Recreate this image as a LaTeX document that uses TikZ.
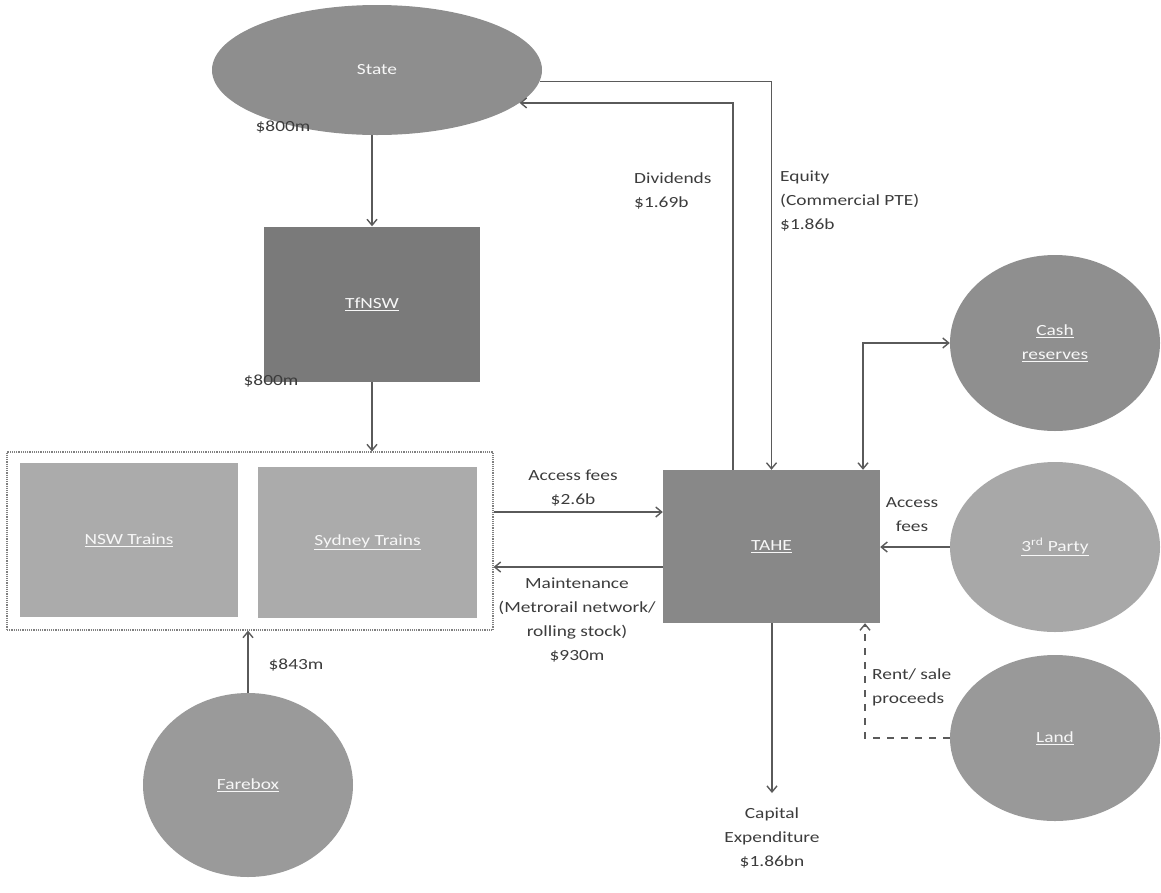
\documentclass[tikz,border=0pt]{standalone}
\usepackage{fontspec}
\setmainfont[FakeStretch=1.25]{Carlito}
\usetikzlibrary{shapes.geometric,arrows.meta}
\definecolor{cstate}{HTML}{8E8E8E}
\definecolor{ctfnsw}{HTML}{7A7A7A}
\definecolor{ctrain}{HTML}{ABABAB}
\definecolor{ctahe}{HTML}{888888}
\definecolor{ccash}{HTML}{8F8F8F}
\definecolor{cparty}{HTML}{A8A8A8}
\definecolor{cland}{HTML}{999999}
\definecolor{cfare}{HTML}{9A9A9A}
\definecolor{cline}{HTML}{5A5A5A}
\definecolor{ctext}{HTML}{3C3C3C}
\begin{document}
\begin{tikzpicture}[x=1pt,y=-1pt,
  font=\fontsize{15.5}{24}\selectfont,
  shapetext/.style={text=white!94!gray, inner sep=0pt},
  ell/.style={ellipse, shapetext},
  box/.style={rectangle, shapetext},
  lab/.style={text=ctext, align=center, inner sep=1pt},
  labl/.style={text=ctext, align=left, inner sep=1pt, anchor=north west},
  arr/.style={draw=cline, line width=1.4pt, -{Straight Barb[length=6pt,width=10pt]}},
  darr/.style={draw=cline, line width=1.4pt, {Straight Barb[length=6pt,width=10pt]}-{Straight Barb[length=6pt,width=10pt]}},
  plain/.style={draw=cline, line width=1.4pt},
  grp/.style={draw=gray, densely dotted, line width=1.2pt, rectangle, inner sep=0pt}
]
\useasboundingbox (0,0) rectangle (1161,892);

% shapes
\node[ell, fill=cstate, minimum width=330, minimum height=130] (state) at (377,70) {State};
\node[box, fill=ctfnsw, minimum width=216, minimum height=155] (tfnsw) at (372,304) {\underline{TfNSW}};
\node[grp, minimum width=486, minimum height=178] (group) at (250,541) {};
\node[box, fill=ctrain, minimum width=218, minimum height=154] (nsw) at (129,540) {\underline{NSW Trains}};
\node[box, fill=ctrain, minimum width=219, minimum height=151] (syd) at (367.5,542.5) {\underline{Sydney Trains}};
\node[ell, fill=cfare, minimum width=210, minimum height=184] (fare) at (248,785) {\underline{Farebox}};
\node[box, fill=ctahe, minimum width=217, minimum height=153] (tahe) at (771.5,546.5) {\underline{TAHE}};
\node[ell, fill=ccash, minimum width=210, minimum height=176, align=center] (cash) at (1055,343) {\underline{Cash}\\\underline{reserves}};
\node[ell, fill=cparty, minimum width=210, minimum height=170] (party) at (1055,547) {\underline{3\textsuperscript{rd} Party}};
\node[ell, fill=cland, minimum width=210, minimum height=166] (land) at (1055,738) {\underline{Land}};

% helper coordinates
\coordinate (dv) at (733,0);
\coordinate (cx) at (863,0);
\coordinate (rx) at (865,0);
\coordinate (af) at (0,512);
\coordinate (mt) at (0,567);
\coordinate (capend) at (772,793);

% connectors
\draw[arr] (tfnsw.north |- state.south) -- (tfnsw.north);
\draw[arr] (tfnsw.south) -- (tfnsw.south |- group.north);
\draw[arr] (fare.north) -- (fare.north |- group.south);
\draw[arr] (group.east |- af) -- (tahe.west |- af);
\draw[arr] (tahe.west |- mt) -- (group.east |- mt);
\draw[arr] (tahe.north -| dv) |- (state.-13);
\draw[arr] (state.-4) -| (tahe.north);
\draw[darr] (cash.west) -| (tahe.north -| cx);
\draw[arr] (party.west) -- (tahe.east |- party.west);
\draw[arr, dashed, dash pattern=on 7pt off 7pt] (land.west) -| (tahe.south -| rx);
\draw[arr] (tahe.south -| capend) -- (capend);

% labels
\node[lab] (l800a) at (283,127) {\$800m};
\node[lab] (l800b) at (271,381) {\$800m};
\node[lab] (l843) at (296,665) {\$843m};
\node[labl] (ldiv) at (633,172) {Dividends\\\$1.69b};
\node[labl] (leq) at (779,170) {Equity\\(Commercial PTE)\\\$1.86b};
\node[lab] (laf) at (573,488) {Access fees\\\$2.6b};
\node[lab] (lmt) at (577,620) {Maintenance\\(Metrorail network/\\rolling stock)\\\$930m};
\node[lab] (laf2) at (912,515) {Access\\fees};
\node[labl] (lrent) at (871,668) {Rent/ sale\\proceeds};
\node[lab] (lcap) at (772,838) {Capital\\Expenditure\\\$1.86bn};
\end{tikzpicture}
\end{document}
